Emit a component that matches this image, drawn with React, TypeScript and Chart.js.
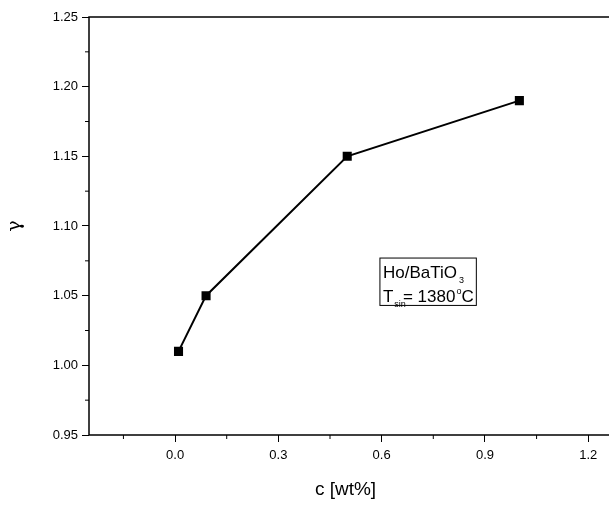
import React, { useEffect, useRef } from "react";
import { Chart, registerables } from "chart.js";
Chart.register(...registerables);

const cValues = [0.01, 0.09, 0.5, 1.0];
const gammaValues = [1.01, 1.05, 1.15, 1.19];
const xTicks = [0.0, 0.3, 0.6, 0.9, 1.2];

const frame = {
  id: "frame",
  afterDraw(chart: any) {
    const { ctx, chartArea: a, scales } = chart;
    ctx.save();
    ctx.strokeStyle = "#000";
    ctx.lineWidth = 1.5;
    ctx.beginPath();
    ctx.moveTo(chart.width, a.top); ctx.lineTo(a.left, a.top); ctx.lineTo(a.left, a.bottom); ctx.lineTo(chart.width, a.bottom);
    ctx.stroke();
    ctx.lineWidth = 1;
    for (let v = -0.15; v < 1.25; v += 0.3) {
      const x = scales.x.getPixelForValue(v);
      ctx.beginPath(); ctx.moveTo(x, a.bottom); ctx.lineTo(x, a.bottom + 4); ctx.stroke();
    }
    for (let v = 0.975; v < 1.25; v += 0.05) {
      const y = scales.y.getPixelForValue(v);
      ctx.beginPath(); ctx.moveTo(a.left, y); ctx.lineTo(a.left - 4, y); ctx.stroke();
    }
    const x0 = scales.x.getPixelForValue(0.595), x1 = scales.x.getPixelForValue(0.875);
    const y0 = scales.y.getPixelForValue(1.077), y1 = scales.y.getPixelForValue(1.043);
    ctx.strokeRect(x0, y0, x1 - x0, y1 - y0);
    const big = "17px Arial, 'Liberation Sans', sans-serif";
    const small = "9px Arial, 'Liberation Sans', sans-serif";
    ctx.fillStyle = "#000";
    ctx.font = big;
    ctx.fillText("Ho/BaTiO", x0 + 3, y0 + 20);
    let w = ctx.measureText("Ho/BaTiO").width;
    ctx.font = small;
    ctx.fillText("3", x0 + 5 + w, y0 + 25);
    ctx.font = big;
    ctx.fillText("T", x0 + 3, y0 + 44);
    const tw = ctx.measureText("T").width;
    ctx.font = small;
    ctx.fillText("sin", x0 + 4 + tw, y0 + 49);
    ctx.font = big;
    const s1 = "= 1380";
    ctx.fillText(s1, x0 + 23, y0 + 44);
    w = ctx.measureText(s1).width;
    ctx.font = small;
    ctx.fillText("o", x0 + 24 + w, y0 + 36);
    ctx.font = big;
    ctx.fillText("C", x0 + 29 + w, y0 + 44);
    ctx.restore();
  },
};

export default function App() {
  const ref = useRef<HTMLCanvasElement>(null);
  useEffect(() => {
    document.body.style.margin = "0";
    const font = { family: "Arial, 'Liberation Sans', sans-serif", size: 13 };
    const chart = new Chart(ref.current!, {
      type: "scatter",
      data: {
        datasets: [{
          data: cValues.map((c, i) => ({ x: c, y: gammaValues[i] })),
          showLine: true,
          borderColor: "#000",
          backgroundColor: "#000",
          borderWidth: 2,
          pointStyle: "rect",
          pointRadius: 5,
        }],
      },
      options: {
        animation: false,
        responsive: false,
        layout: { padding: { top: 17, right: 0 } },
        plugins: { legend: { display: false }, tooltip: { enabled: false } },
        scales: {
          x: {
            type: "linear", min: -0.25, max: 1.24,
            afterBuildTicks: (s: any) => { s.ticks = xTicks.map((v) => ({ value: v })); },
            ticks: { color: "#000", font, callback: (v: any) => Number(v).toFixed(1), padding: 6 },
            grid: { drawOnChartArea: false, tickLength: 7, color: "#000" },
            border: { display: false },
            title: { display: true, text: "c [wt%]", color: "#000", font: { ...font, size: 19 }, padding: { top: 8 } },
            afterFit: (s: any) => { s.height = 70; },
          },
          y: {
            min: 0.95, max: 1.25,
            ticks: { stepSize: 0.05, color: "#000", font, callback: (v: any) => Number(v).toFixed(2), padding: 4 },
            grid: { drawOnChartArea: false, tickLength: 7, color: "#000" },
            border: { display: false },
            title: { display: true, text: "γ", color: "#000", font: { family: "'DejaVu Serif', serif", size: 19 }, padding: { bottom: 8 } },
            afterFit: (s: any) => { s.width = 89; },
          },
        },
      },
      plugins: [frame],
    });
    return () => chart.destroy();
  }, []);
  return <canvas ref={ref} width={609} height={505} style={{ display: "block" }} />;
}
